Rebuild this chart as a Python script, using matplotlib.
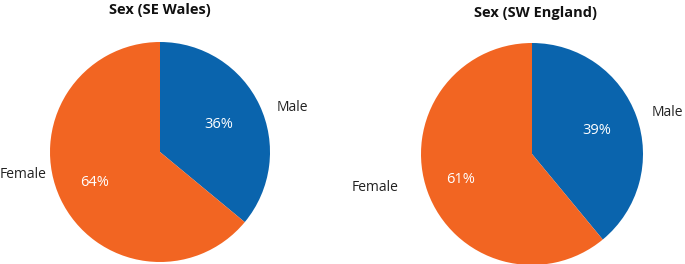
import math
import matplotlib.pyplot as plt

plt.rcParams['font.family'] = ['Open Sans', 'DejaVu Sans']

W, H = 685, 264

labels = ['Male', 'Female']
colors = ['#0a64ad', '#f26522']

titles = ['Sex (SE Wales)', 'Sex (SW England)']
shares = [[36, 64], [39, 61]]

# pie layout in pixels: centre x, centre y (from top), radius
pies = [(160, 152, 110), (532, 154, 111)]
# label anchor spots (angle deg, distance in radii) for Male / Female
label_spots = [[(21, 1.14), (191, 1.05)], [(19, 1.14), (194, 1.24)]]
pct_dist = [[0.59, 0.66], [0.62, 0.68]]
title_pos = [(160, 10), (536, 13)]

fig = plt.figure(figsize=(W / 100, H / 100), dpi=100)

for i in range(2):
    cx, cy, r = pies[i]
    half = r * 1.3
    ax = fig.add_axes([(cx - half) / W, (H - cy - half) / H, 2 * half / W, 2 * half / H])
    wedges, texts, autotexts = ax.pie(
        shares[i], labels=labels, colors=colors, startangle=90, counterclock=False,
        autopct='%d%%', pctdistance=0.6, labeldistance=1.1,
        textprops=dict(fontsize=10, color='#222222'),
        wedgeprops=dict(linewidth=0))
    ax.set_xlim(-1.3, 1.3)
    ax.set_ylim(-1.3, 1.3)
    ax.set_aspect('equal')
    for t, (ang, d) in zip(texts, label_spots[i]):
        a = math.radians(ang)
        t.set_position((d * math.cos(a), d * math.sin(a)))
        t.set_va('center')
    for w, t, d in zip(wedges, autotexts, pct_dist[i]):
        a = math.radians((w.theta1 + w.theta2) / 2)
        t.set_position((d * math.cos(a), d * math.sin(a)))
        t.set_color('white')
        t.set_fontsize(10.5)
    tx, ty = title_pos[i]
    fig.text(tx / W, 1 - ty / H, titles[i], ha='center', va='center',
             fontsize=10.5, fontweight='bold', color='#111111')

plt.savefig('out.png', dpi=100)
